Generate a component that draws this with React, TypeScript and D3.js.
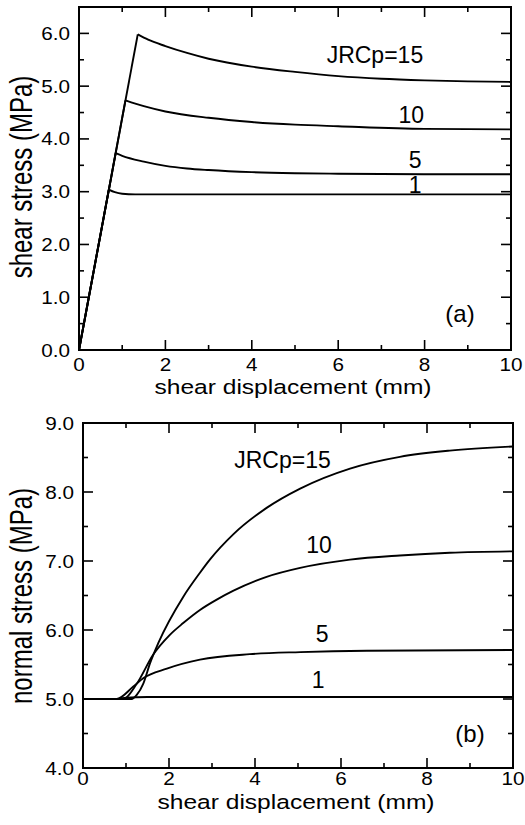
import React from "react";
import * as d3 from "d3";

// ---------- data ----------
const X_TICKS = [0, 2, 4, 6, 8, 10];
const X_MINOR = [1, 3, 5, 7, 9];
const TOP_Y_TICKS = [0, 1, 2, 3, 4, 5, 6];
const TOP_Y_MINOR = [0.5, 1.5, 2.5, 3.5, 4.5, 5.5];
const BOT_Y_TICKS = [4, 5, 6, 7, 8, 9];
const BOT_Y_MINOR = [4.5, 5.5, 6.5, 7.5, 8.5];

// (a) shear stress vs shear displacement (first point -> peak is the linear rise)
const SHEAR_JRC1: [number, number][] = [
  [0, 0], [0.69, 3.04], [0.83, 2.99], [1.0, 2.96], [1.3, 2.95], [4, 2.95], [10, 2.95],
];
const SHEAR_JRC5: [number, number][] = [
  [0, 0], [0.85, 3.73], [1.0, 3.68], [1.5, 3.57], [2, 3.49], [2.5, 3.44], [3, 3.41],
  [4, 3.37], [5, 3.35], [6, 3.34], [8, 3.33], [10, 3.33],
];
const SHEAR_JRC10: [number, number][] = [
  [0, 0], [1.075, 4.73], [1.5, 4.62], [2, 4.52], [3, 4.4], [4, 4.32], [5, 4.27],
  [6, 4.24], [8, 4.19], [10, 4.18],
];
const SHEAR_JRC15: [number, number][] = [
  [0, 0], [1.36, 5.98], [1.6, 5.88], [2, 5.76], [2.5, 5.63], [3, 5.52], [4, 5.37],
  [5, 5.27], [6, 5.19], [7, 5.14], [8, 5.11], [9, 5.09], [10, 5.08],
];

// (b) normal stress vs shear displacement
const NORMAL_JRC1: [number, number][] = [
  [0, 5.0], [0.8, 5.0], [1.0, 5.02], [1.5, 5.03], [3, 5.03], [10, 5.03],
];
const NORMAL_JRC5: [number, number][] = [
  [0, 5.0], [0.78, 5.0], [1.17, 5.18], [1.4, 5.3], [1.95, 5.44], [2.72, 5.57],
  [3.88, 5.65], [5.05, 5.68], [6.6, 5.7], [10, 5.71],
];
const NORMAL_JRC10: [number, number][] = [
  [0, 5.0], [0.94, 5.0], [1.25, 5.22], [1.63, 5.64], [2.02, 5.93], [2.33, 6.1],
  [2.72, 6.29], [3.11, 6.44], [3.5, 6.57], [4.27, 6.77], [5.05, 6.9], [6.21, 7.02],
  [7.37, 7.08], [8.53, 7.12], [10, 7.14],
];
const NORMAL_JRC15: [number, number][] = [
  [0, 5.0], [1.13, 5.0], [1.25, 5.06], [1.4, 5.22], [1.56, 5.52], [1.75, 5.81],
  [2.33, 6.48], [2.72, 6.83], [2.95, 7.02], [3.5, 7.39], [4.27, 7.77], [5.05, 8.05],
  [6.21, 8.34], [7.37, 8.51], [8.53, 8.6], [10, 8.66],
];

const FONT = "'Liberation Sans', Arial, Helvetica, sans-serif";
const fmt = d3.format(".1f");

type TxtProps = {
  x: number; y: number; text: string; size: number; sx?: number;
  anchor?: "start" | "middle" | "end"; rotate?: boolean;
};
const Txt = ({ x, y, text, size, sx = 1, anchor = "middle", rotate = false }: TxtProps) => (
  <text
    transform={`translate(${x},${y}) scale(${sx},1)${rotate ? " rotate(-90)" : ""}`}
    fontSize={size}
    fontFamily={FONT}
    textAnchor={anchor}
    fill="#000"
  >
    {text}
  </text>
);

type PanelProps = {
  x0: number; x1: number; yTop: number; yBot: number;
  yDomain: [number, number];
  yTicks: number[]; yMinor: number[];
  series: [number, number][][];
  linearRise: boolean;
  tickOff: number; titleOff: number;
  yTitle: string; yTitleCenter: number;
  labels: { t: string; x: number; y: number; size: number }[];
};

const Panel = (p: PanelProps) => {
  const xs = d3.scaleLinear().domain([0, 10]).range([p.x0, p.x1]);
  const ys = d3.scaleLinear().domain(p.yDomain).range([p.yBot, p.yTop]);
  const smooth = d3
    .line<[number, number]>()
    .x((d) => xs(d[0]))
    .y((d) => ys(d[1]))
    .curve(d3.curveMonotoneX);
  const straight = d3
    .line<[number, number]>()
    .x((d) => xs(d[0]))
    .y((d) => ys(d[1]));
  const MAJ = 10;
  const MIN = 5;
  const SW = 1.6;
  return (
    <g>
      {p.series.map((s, i) =>
        p.linearRise ? (
          <g key={i}>
            <path d={straight(s.slice(0, 2)) || ""} fill="none" stroke="#000" strokeWidth={1.9} />
            <path d={smooth(s.slice(1)) || ""} fill="none" stroke="#000" strokeWidth={1.9} strokeLinejoin="round" />
          </g>
        ) : (
          <path key={i} d={smooth(s) || ""} fill="none" stroke="#000" strokeWidth={1.9} strokeLinejoin="round" />
        )
      )}
      <rect x={p.x0} y={p.yTop} width={p.x1 - p.x0} height={p.yBot - p.yTop} fill="none" stroke="#000" strokeWidth={2} />
      {X_TICKS.map((t) => (
        <g key={"xt" + t}>
          <line x1={xs(t)} x2={xs(t)} y1={p.yBot} y2={p.yBot - MAJ} stroke="#000" strokeWidth={SW} />
          <line x1={xs(t)} x2={xs(t)} y1={p.yTop} y2={p.yTop + MAJ} stroke="#000" strokeWidth={SW} />
          <Txt x={xs(t)} y={p.yBot + p.tickOff} text={String(t)} size={18} sx={1.15} />
        </g>
      ))}
      {X_MINOR.map((t) => (
        <g key={"xm" + t}>
          <line x1={xs(t)} x2={xs(t)} y1={p.yBot} y2={p.yBot - MIN} stroke="#000" strokeWidth={SW} />
          <line x1={xs(t)} x2={xs(t)} y1={p.yTop} y2={p.yTop + MIN} stroke="#000" strokeWidth={SW} />
        </g>
      ))}
      {p.yTicks.map((t) => (
        <g key={"yt" + t}>
          <line x1={p.x0} x2={p.x0 + MAJ} y1={ys(t)} y2={ys(t)} stroke="#000" strokeWidth={SW} />
          <line x1={p.x1} x2={p.x1 - MAJ} y1={ys(t)} y2={ys(t)} stroke="#000" strokeWidth={SW} />
          <Txt x={p.x0 - 9} y={ys(t) + 6.5} text={fmt(t)} size={18} sx={1.15} anchor="end" />
        </g>
      ))}
      {p.yMinor.map((t) => (
        <g key={"ym" + t}>
          <line x1={p.x0} x2={p.x0 + MIN} y1={ys(t)} y2={ys(t)} stroke="#000" strokeWidth={SW} />
          <line x1={p.x1} x2={p.x1 - MIN} y1={ys(t)} y2={ys(t)} stroke="#000" strokeWidth={SW} />
        </g>
      ))}
      <Txt x={(p.x0 + p.x1) / 2 - 2} y={p.yBot + p.titleOff} text="shear displacement (mm)" size={19.5} sx={1.26} />
      <Txt x={32} y={p.yTitleCenter} text={p.yTitle} size={24} sx={1.27} rotate />
      {p.labels.map((l, i) => (
        <Txt key={"l" + i} x={xs(l.x)} y={ys(l.y)} text={l.t} size={l.size} />
      ))}
    </g>
  );
};

export default function App() {
  return (
    <div style={{ position: "absolute", left: 0, top: 0, background: "#fff" }}>
      <svg width={525} height={825} style={{ display: "block", background: "#fff" }}>
        <Panel
          x0={79} x1={511} yTop={7} yBot={350}
          yDomain={[0, 6.5]}
          yTicks={TOP_Y_TICKS} yMinor={TOP_Y_MINOR}
          series={[SHEAR_JRC1, SHEAR_JRC5, SHEAR_JRC10, SHEAR_JRC15]}
          linearRise={true}
          tickOff={21} titleOff={44}
          yTitle="shear stress (MPa)" yTitleCenter={177}
          labels={[
            { t: "JRCp=15", x: 6.85, y: 5.44, size: 23 },
            { t: "10", x: 7.69, y: 4.3, size: 23 },
            { t: "5", x: 7.78, y: 3.45, size: 23 },
            { t: "1", x: 7.78, y: 2.98, size: 23 },
            { t: "(a)", x: 8.82, y: 0.53, size: 24 },
          ]}
        />
        <Panel
          x0={83} x1={513} yTop={423} yBot={768}
          yDomain={[4, 9]}
          yTicks={BOT_Y_TICKS} yMinor={BOT_Y_MINOR}
          series={[NORMAL_JRC1, NORMAL_JRC5, NORMAL_JRC10, NORMAL_JRC15]}
          linearRise={false}
          tickOff={17} titleOff={41}
          yTitle="normal stress (MPa)" yTitleCenter={596}
          labels={[
            { t: "JRCp=15", x: 4.64, y: 8.35, size: 23 },
            { t: "10", x: 5.49, y: 7.12, size: 23 },
            { t: "5", x: 5.56, y: 5.83, size: 23 },
            { t: "1", x: 5.47, y: 5.16, size: 23 },
            { t: "(b)", x: 9.0, y: 4.38, size: 24 },
          ]}
        />
      </svg>
    </div>
  );
}
